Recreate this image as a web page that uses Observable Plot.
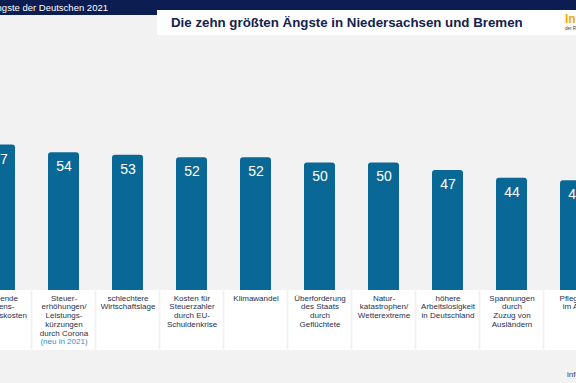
<!DOCTYPE html>
<html><head><meta charset="utf-8">
<script src="https://cdn.jsdelivr.net/npm/d3@7"></script>
<script src="https://cdn.jsdelivr.net/npm/@observablehq/plot@0.6"></script>
<style>
html,body{margin:0;padding:0;background:#f2f2f2;}
#page{position:relative;width:576px;height:383px;overflow:hidden;font-family:"Liberation Sans",Arial,sans-serif;background:#f2f2f2;}
#band{position:absolute;left:0;top:0;width:576px;height:15px;background:#0c1d52;}
#kicker{position:absolute;right:468px;top:2px;color:#fff;font-size:9.5px;white-space:nowrap;line-height:11px;}
#titlebox{position:absolute;left:157px;top:10px;width:419px;height:25px;background:#fff;}
#title{position:absolute;left:171px;top:14px;font-weight:bold;font-size:13.3px;line-height:17px;color:#14224f;white-space:nowrap;}
#logo{position:absolute;left:565px;top:13px;color:#f2a900;font-weight:bold;font-size:12px;line-height:12px;white-space:nowrap;}
#logosub{position:absolute;left:565px;top:26px;font-size:4.5px;line-height:5px;color:#333;white-space:nowrap;}
#chart{position:absolute;left:0;top:40px;}
#source{position:absolute;left:567px;top:370px;font-size:8px;line-height:9px;color:#444;white-space:nowrap;}
</style>
</head><body>
<div id="page">
  <div id="band"></div>
  <div id="kicker">Die Ängste der Deutschen 2021</div>
  <div id="titlebox"></div>
  <div id="title">Die zehn größten Ängste in Niedersachsen und Bremen</div>
  <div id="logo">Infocenter</div>
  <div id="logosub">der R+V Versicherung</div>
  <div id="chart"></div>
  <div id="source">infocenter.ruv.de</div>
</div>
<script>
const categories = [
  "Steigende\nLebens-\nhaltungskosten",
  "Steuer-\nerhöhungen/\nLeistungs-\nkürzungen\ndurch Corona",
  "schlechtere\nWirtschaftslage",
  "Kosten für\nSteuerzahler\ndurch EU-\nSchuldenkrise",
  "Klimawandel",
  "Überforderung\ndes Staats\ndurch\nGeflüchtete",
  "Natur-\nkatastrophen/\nWetterextreme",
  "höhere\nArbeitslosigkeit\nin Deutschland",
  "Spannungen\ndurch\nZuzug von\nAusländern",
  "Pflegefall\nim Alter"
];
const values = [57, 54, 53, 52, 52, 50, 50, 47, 44, 43];
const notes = ["", "(neu in 2021)", "", "", "", "", "", "", "", ""];

const data = categories.map((c, i) => ({cat: c, value: values[i], note: notes[i]}));
const barColor = "#0a6896";

const chart = Plot.plot({
  width: 576,
  height: 343,
  marginTop: 0,
  marginBottom: 93,
  marginLeft: 0,
  marginRight: 0,
  style: {background: "transparent", fontFamily: "'Liberation Sans', Arial, sans-serif"},
  x: {domain: categories, range: [-32.5, 607.5], paddingInner: 0.516, paddingOuter: 0.258, axis: null},
  y: {domain: [0, 98], axis: null},
  marks: [
    Plot.barY(data, {x: "cat", y: "value", fill: barColor, rx: 3, insetBottom: -6}),
    Plot.barY(data, {x: "cat", y1: 0, y2: 0, fill: "white", insetLeft: -15.5, insetRight: -15.5, insetBottom: -60}),
    Plot.text(data, {x: "cat", y: "value", text: d => String(d.value), dy: 14, fill: "white", fontSize: 14}),
    Plot.text(data, {x: "cat", text: "cat", frameAnchor: "bottom", lineAnchor: "top", dy: 4, fontSize: 8, lineHeight: 1.09, fill: "#27314f"}),
    Plot.text(data.filter(d => d.note), {x: "cat", text: "note", frameAnchor: "bottom", lineAnchor: "top", dy: 4 + 5 * 8.72, fontSize: 8, fill: "#2f8fcb"})
  ]
});
document.getElementById("chart").appendChild(chart);
</script>
</body></html>
